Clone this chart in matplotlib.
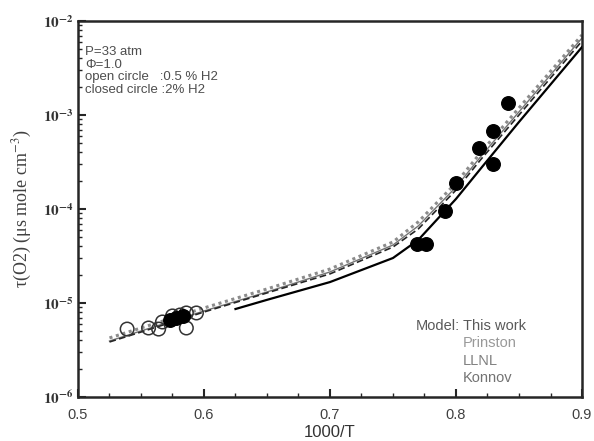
import numpy as np
import matplotlib
matplotlib.use("Agg")
import matplotlib.pyplot as plt
from matplotlib.ticker import FixedLocator, FixedFormatter, LogLocator, NullFormatter

plt.rcParams.update({
    "font.family": ["Liberation Sans", "DejaVu Sans"],
    "mathtext.fontset": "stix",
})

# ---- data ------------------------------------------------------------------
open_x = [0.539, 0.556, 0.564, 0.567, 0.575, 0.581, 0.586, 0.586, 0.594]
open_tau = [5.28e-6, 5.42e-6, 5.28e-6, 6.28e-6, 7.28e-6, 7.45e-6, 7.83e-6,
            5.42e-6, 7.83e-6]

closed_x = [0.573, 0.578, 0.583, 0.769, 0.776, 0.791, 0.800, 0.818, 0.829,
            0.829, 0.841]
closed_tau = [6.59e-6, 6.92e-6, 7.28e-6, 4.25e-5, 4.25e-5, 9.52e-5, 1.89e-4,
              4.46e-4, 6.76e-4, 3.01e-4, 1.34e-3]

model_x = [0.525, 0.55, 0.60, 0.65, 0.70, 0.75, 0.77, 0.80, 0.82, 0.85, 0.90]
prinston = [4.25e-6, 5.42e-6, 8.85e-6, 1.41e-5, 2.30e-5, 4.46e-5, 7.28e-5,
            1.89e-4, 4.04e-4, 1.19e-3, 7.10e-3]
konnov = [3.94e-6, 5.04e-6, 8.22e-6, 1.31e-5, 2.14e-5, 4.14e-5, 6.59e-5,
          1.71e-4, 3.66e-4, 1.08e-3, 6.59e-3]
llnl = [3.85e-6, 4.91e-6, 8.02e-6, 1.28e-5, 2.04e-5, 3.94e-5, 6.12e-5,
        1.59e-4, 3.40e-4, 1.00e-3, 6.12e-3]
this_x = [0.625, 0.65, 0.70, 0.75, 0.77, 0.80, 0.82, 0.85, 0.90]
this_work = [8.63e-6, 1.08e-5, 1.67e-5, 3.01e-5, 4.68e-5, 1.28e-4, 2.73e-4,
             8.43e-4, 5.28e-3]

xticks = [0.5, 0.6, 0.7, 0.8, 0.9]
yticks = [1e-6, 1e-5, 1e-4, 1e-3, 1e-2]
ytick_labels = [r"$\mathbf{10^{-6}}$", r"$\mathbf{10^{-5}}$",
                r"$\mathbf{10^{-4}}$", r"$\mathbf{10^{-3}}$",
                r"$\mathbf{10^{-2}}$"]

fig = plt.figure(figsize=(5.94, 4.41), dpi=100)
ax = fig.add_axes([0.1313, 0.0998, 0.8485, 0.8526])

ax.plot(model_x, prinston, color="0.55", lw=2.2, ls=(0, (1, 1.2)), zorder=2)
ax.plot(model_x, konnov, color="0.45", lw=1.0, zorder=2)
ax.plot(model_x, llnl, color="0.15", lw=1.2, ls=(0, (4, 2)), zorder=2)
ax.plot(this_x, this_work, color="black", lw=1.6, zorder=3)

ax.scatter(open_x, open_tau, s=95, facecolor="none", edgecolor="0.2",
           linewidth=1.1, zorder=4)
ax.scatter(closed_x, closed_tau, s=95, color="black", zorder=5)

ax.set_yscale("log")
ax.set_xlim(0.5, 0.9)
ax.set_ylim(1e-6, 1e-2)
ax.xaxis.set_major_locator(FixedLocator(xticks))
ax.xaxis.set_minor_locator(FixedLocator(np.arange(0.5, 0.9001, 0.025)))
ax.yaxis.set_major_locator(FixedLocator(yticks))
ax.yaxis.set_major_formatter(FixedFormatter(ytick_labels))
ax.yaxis.set_minor_locator(LogLocator(base=10, subs=np.arange(2, 10)))
ax.yaxis.set_minor_formatter(NullFormatter())
ax.tick_params(which="major", direction="in", length=6, width=1.5,
               labelsize=11, color="0.15")
ax.tick_params(which="minor", direction="in", length=3, width=1.0,
               color="0.15")
ax.tick_params(axis="x", labelcolor="0.25", labelsize=10.5, pad=8)
for sp in ax.spines.values():
    sp.set_linewidth(1.8)
    sp.set_color("0.15")
for lab in ax.get_yticklabels():
    lab.set_color("0.2")

ax.set_xlabel("1000/T", fontsize=12, color="0.2", labelpad=2)
ax.set_ylabel(r"τ(O2) (μs mole cm$^{-3}$)", fontsize=13,
              family="Liberation Serif", color="0.25", labelpad=6)

info = ["P=33 atm", "Φ=1.0", "open circle   :0.5 % H2",
        "closed circle :2% H2"]
for i, t in enumerate(info):
    ax.text(0.014, 0.918 - i * 0.034, t, transform=ax.transAxes,
            fontsize=9.5, color="0.3", va="center")

ax.text(0.758, 0.189, "Model:", transform=ax.transAxes, ha="right",
        va="center", fontsize=10.5, color="0.35")
legend_names = ["This work", "Prinston", "LLNL", "Konnov"]
legend_colors = ["0.35", "0.6", "0.5", "0.45"]
for i, (name, col) in enumerate(zip(legend_names, legend_colors)):
    ax.text(0.764, 0.189 - i * 0.0465, name, transform=ax.transAxes,
            va="center", fontsize=10.5, color=col)

fig.savefig("out.png", dpi=100)
